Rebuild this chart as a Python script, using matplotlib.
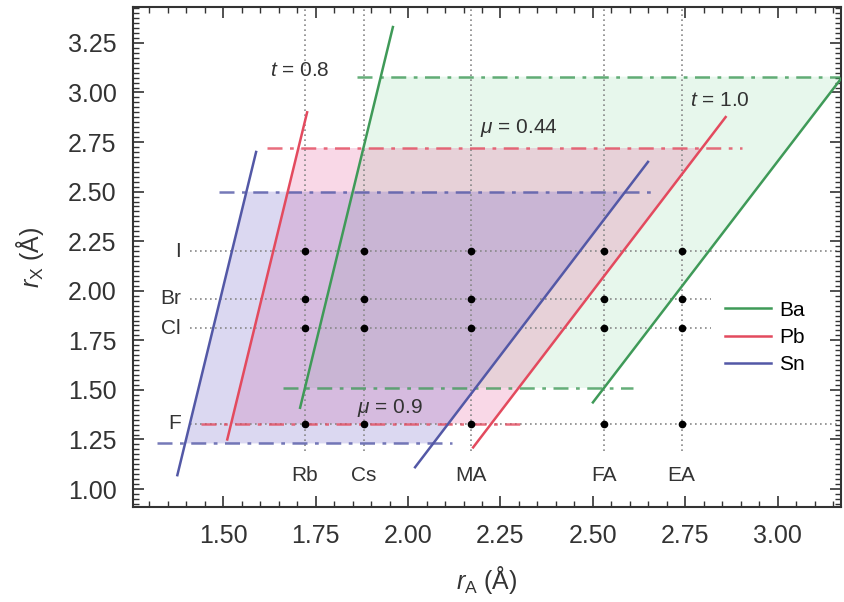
import numpy as np
import matplotlib
matplotlib.use("Agg")
import matplotlib.pyplot as plt
from matplotlib.ticker import MultipleLocator, FormatStrFormatter

plt.rcParams["font.family"] = ["Liberation Sans", "DejaVu Sans"]
plt.rcParams["mathtext.fontset"] = "custom"
plt.rcParams["mathtext.rm"] = "Liberation Sans"
plt.rcParams["mathtext.it"] = "Liberation Sans:italic"

# ionic radii (Å)
a_sites = ["Rb", "Cs", "MA", "FA", "EA"]
r_a = [1.72, 1.88, 2.17, 2.53, 2.74]
x_sites = ["I", "Br", "Cl", "F"]
r_x = [2.20, 1.96, 1.81, 1.33]
x_row_end = [3.20, 2.82, 2.82, 3.20]

b_sites = ["Ba", "Pb", "Sn"]
colors = {"Ba": "#3f9a58", "Pb": "#e34a5e", "Sn": "#5358a6"}
fills = {"Ba": "#7fd39a", "Pb": "#e85c9c", "Sn": "#6a5fc8"}
fill_alpha = {"Ba": 0.18, "Pb": 0.24, "Sn": 0.24}

# tolerance-factor lines (r_A, r_X end points)
t08_x = {"Sn": [1.376, 1.589], "Pb": [1.511, 1.727], "Ba": [1.708, 1.959]}
t08_y = {"Sn": [1.07, 2.70], "Pb": [1.25, 2.90], "Ba": [1.41, 3.33]}
t10_x = {"Sn": [2.019, 2.649], "Pb": [2.176, 2.859], "Ba": [2.50, 3.20]}
t10_y = {"Sn": [1.11, 2.65], "Pb": [1.21, 2.876], "Ba": [1.437, 3.14]}

# octahedral-factor limits (mu = 0.9 low, mu = 0.44 high)
mu_low = {"Sn": 1.23, "Pb": 1.33, "Ba": 1.51}
mu_low_x = {"Sn": [1.32, 2.12], "Pb": [1.44, 2.32], "Ba": [1.662, 2.608]}
mu_high = {"Sn": 2.50, "Pb": 2.72, "Ba": 3.08}
mu_high_x = {"Sn": [1.49, 2.673], "Pb": [1.619, 2.903], "Ba": [1.862, 3.30]}

fig = plt.figure(figsize=(8.44, 6.02), dpi=100)
ax = fig.add_axes([0.158, 0.158, 0.838, 0.830])

# shaded stable regions
for b in ["Ba", "Pb", "Sn"]:
    lo, hi = mu_low[b], mu_high[b]
    xl0 = np.interp(lo, t08_y[b], t08_x[b])
    xl1 = np.interp(hi, t08_y[b], t08_x[b])
    xr0 = np.interp(lo, t10_y[b], t10_x[b])
    xr1 = np.interp(hi, t10_y[b], t10_x[b])
    ax.fill([xl0, xr0, xr1, xl1], [lo, lo, hi, hi], color=fills[b],
            alpha=fill_alpha[b], lw=0, zorder=0)

# grid of ions
dot = dict(color="#888888", lw=1.2, ls=(0, (1, 2)), zorder=1)
for ra in r_a:
    ax.plot([ra, ra], [1.19, 3.43], **dot)
for rx, xe in zip(r_x, x_row_end):
    ax.plot([1.41, xe], [rx, rx], **dot)

# mu lines
dd = (0, (6, 3, 1.5, 3))
for b in b_sites:
    ax.plot(mu_low_x[b], [mu_low[b]] * 2, color=colors[b], lw=1.8, ls=dd,
            alpha=0.8, zorder=2)
    ax.plot(mu_high_x[b], [mu_high[b]] * 2, color=colors[b], lw=1.8, ls=dd,
            alpha=0.8, zorder=2)

# t lines
for b in b_sites:
    ax.plot(t08_x[b], t08_y[b], color=colors[b], lw=1.8, zorder=3, label=b)
    ax.plot(t10_x[b], t10_y[b], color=colors[b], lw=1.8, zorder=3)

for ra in r_a:
    ax.plot([ra] * len(r_x), r_x, "o", color="black", ms=4.5, zorder=4)

txt = dict(ha="center", va="center", fontsize=15, color="#333333")
for name, ra in zip(a_sites, r_a):
    ax.text(ra, 1.07, name, **txt)
for name, rx in zip(x_sites, r_x):
    ax.text(1.385, rx, name, ha="right", va="center", fontsize=15, color="#333333")

ax.text(1.708, 3.11, r"$t$ = 0.8", **txt)
ax.text(2.843, 2.96, r"$t$ = 1.0", **txt)
ax.text(2.30, 2.82, r"$\mu$ = 0.44", **txt)
ax.text(1.95, 1.41, r"$\mu$ = 0.9", **txt)

ax.set_xlim(1.257, 3.17)
ax.set_ylim(0.91, 3.43)
ax.xaxis.set_major_locator(MultipleLocator(0.25))
ax.xaxis.set_minor_locator(MultipleLocator(0.05))
ax.yaxis.set_major_locator(MultipleLocator(0.25))
ax.yaxis.set_minor_locator(MultipleLocator(0.025))
ax.xaxis.set_major_formatter(FormatStrFormatter("%.2f"))
ax.yaxis.set_major_formatter(FormatStrFormatter("%.2f"))
ax.tick_params(which="both", direction="in", top=True, right=True,
               colors="#333333", labelsize=18)
ax.tick_params(which="major", length=8, width=1.2, pad=12)
ax.tick_params(which="minor", length=4, width=1)
for s in ax.spines.values():
    s.set_color("#333333"); s.set_linewidth(1.5)

ax.set_xlabel(r"$r_\mathrm{A}$ (Å)", fontsize=18, color="#333333", labelpad=12)
ax.set_ylabel(r"$r_\mathrm{X}$ (Å)", fontsize=18, color="#333333", labelpad=16)

ax.legend(loc="upper left", bbox_to_anchor=(0.81, 0.45), frameon=False,
          fontsize=15, handlelength=2.2, labelspacing=0.4, handletextpad=0.4)

fig.savefig("out.png", dpi=100)
